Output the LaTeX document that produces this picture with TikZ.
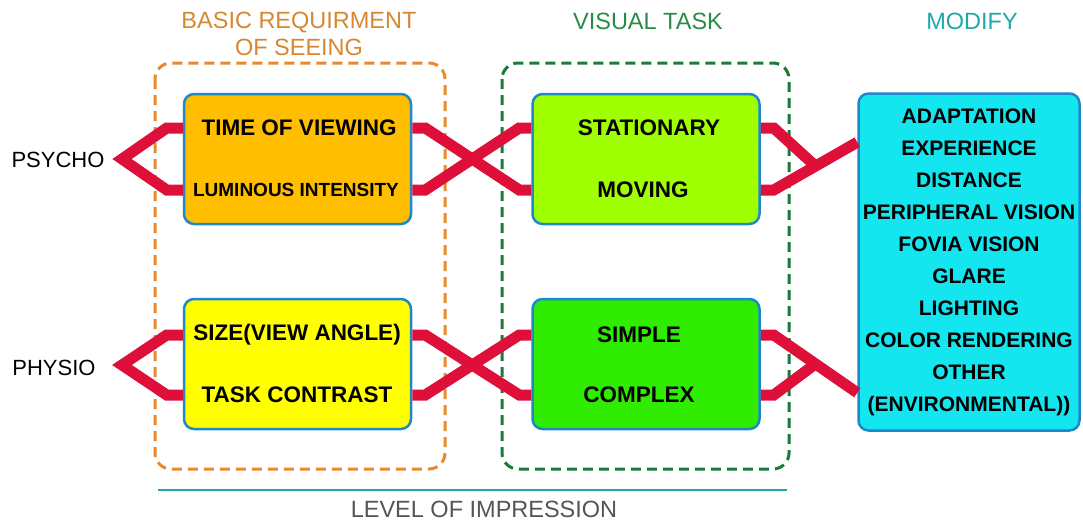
\documentclass[tikz,border=0pt]{standalone}
\usepackage{fontspec}
\setmainfont{Liberation Sans}
\usepackage{xcolor}
\usepackage{tikz}
\usetikzlibrary{positioning,calc}

\definecolor{linkred}{RGB}{222,16,58}
\definecolor{boxblue}{RGB}{30,136,204}
\definecolor{boxamber}{RGB}{255,190,0}
\definecolor{boxyellow}{RGB}{255,255,0}
\definecolor{boxlime}{RGB}{160,255,0}
\definecolor{boxgreen}{RGB}{48,236,0}
\definecolor{boxaqua}{RGB}{20,230,240}
\definecolor{frameorange}{RGB}{232,137,42}
\definecolor{framegreen}{RGB}{26,122,58}
\definecolor{headorange}{RGB}{215,135,50}
\definecolor{headgreen}{RGB}{40,140,72}
\definecolor{headteal}{RGB}{32,168,168}
\definecolor{levelgray}{RGB}{85,85,85}

\begin{document}
\begin{tikzpicture}[x=1pt, y=-1pt,
    box/.style={rectangle, rounded corners=10pt, draw=boxblue, line width=2.5pt, minimum width=227pt, minimum height=130pt},
    row/.style={font=\bfseries\fontsize{22.5}{26}\selectfont},
    smallrow/.style={font=\bfseries\fontsize{19}{22}\selectfont},
    frame/.style={dash pattern=on 10pt off 6pt, line width=3pt, rounded corners=16pt},
    link/.style={draw=linkred, line width=11pt},
    head/.style={font=\fontsize{23.5}{26.5}\selectfont, align=center},
    side/.style={font=\fontsize{22}{26}\selectfont}
]
    \useasboundingbox (0,0) rectangle (1083,522);

    % dashed groups
    \draw[frame, frameorange] (155,63) rectangle (445,469);
    \draw[frame, framegreen] (502,63) rectangle (789,469);

    % headers
    \node[head, text=headorange] (basic) at (299,34) {BASIC REQUIRMENT\\OF SEEING};
    \node[head, text=headgreen] (visual) at (648,21) {VISUAL TASK};
    \node[head, text=headteal] (modify) at (972,21) {MODIFY};

    % boxes
    \node[box, fill=boxamber] (tov) at (297.5,159) {};
    \node[box, fill=boxyellow] (siz) at (297.5,364) {};
    \node[box, fill=boxlime] (sta) at (646,159) {};
    \node[box, fill=boxgreen] (sim) at (646,364) {};

    \node[row] (tov-a) at (299,128) {TIME OF VIEWING};
    \node[smallrow] (tov-b) at (296,190) {LUMINOUS INTENSITY};
    \node[row] (siz-a) at (297,335) {SIZE(VIEW ANGLE)};
    \node[row] (siz-b) at (297,395) {TASK CONTRAST};
    \node[row] (sta-a) at (649,128) {STATIONARY};
    \node[row] (sta-b) at (643,190) {MOVING};
    \node[row] (sim-a) at (639,335) {SIMPLE};
    \node[row] (sim-b) at (639,395) {COMPLEX};

    \node[box, fill=boxaqua, minimum width=221pt, minimum height=337pt, align=center,
          font=\bfseries\fontsize{21}{32}\selectfont] (mod) at (969,262)
        {ADAPTATION\\EXPERIENCE\\DISTANCE\\PERIPHERAL VISION\\FOVIA VISION\\GLARE\\LIGHTING\\COLOR RENDERING\\OTHER\\(ENVIRONMENTAL))};

    % side labels
    \node[side] (psycho) at (58,160) {PSYCHO};
    \node[side] (physio) at (54,368) {PHYSIO};
    \coordinate (psy-tip) at (122,159);
    \coordinate (phy-tip) at (122,365);

    % red links
    \foreach \bx/\tip in {tov/psy-tip, siz/phy-tip} {
        \draw[link] (\bx.west |- \bx-a) -- ++(-16,0) -- (\tip) -- ($(\bx.west |- \bx-b)+(-16,0)$) -- (\bx.west |- \bx-b);
    }
    \foreach \l/\r in {tov/sta, siz/sim} {
        \draw[link] (\l.east |- \l-a) -- ++(13,0) -- ($(\r.west |- \r-b)+(-12,0)$) -- (\r.west |- \r-b);
        \draw[link] (\l.east |- \l-b) -- ++(13,0) -- ($(\r.west |- \r-a)+(-12,0)$) -- (\r.west |- \r-a);
    }
    \coordinate (mod-a) at ($(mod.north west)+(0,50)$);
    \coordinate (mod-b) at ($(mod.south west)+(0,-39)$);
    \draw[link] (sta.east |- sta-b) -- ++(13,0) coordinate (sta-j) -- (mod-a);
    \draw[link] (sta.east |- sta-a) -- ++(13,0) -- ($(sta-j)!0.5!(mod-a)$);
    \draw[link] (sim.east |- sim-a) -- ++(13,0) coordinate (sim-j) -- (mod-b);
    \draw[link] (sim.east |- sim-b) -- ++(13,0) -- ($(sim-j)!0.5!(mod-b)$);

    % level
    \draw[headteal, line width=2pt] (158,490) -- (787,490);
    \node[head, text=levelgray] (level) at (484,509) {LEVEL OF IMPRESSION};
\end{tikzpicture}
\end{document}
